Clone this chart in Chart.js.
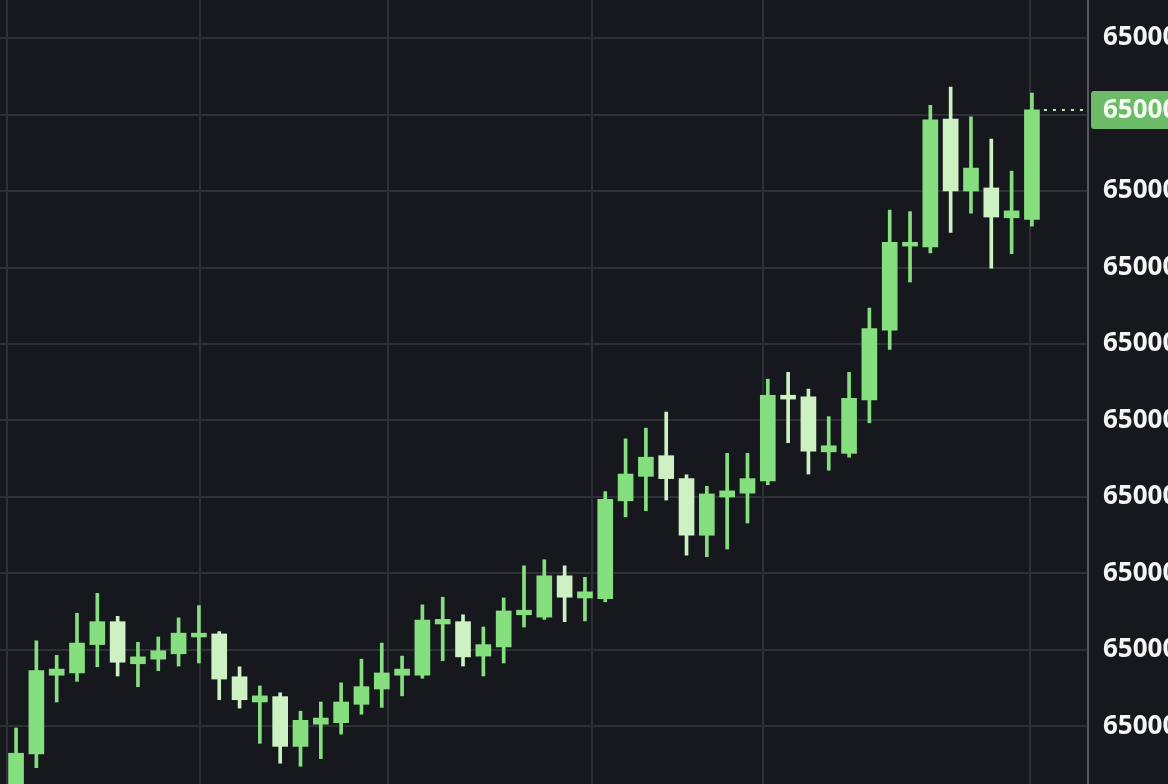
<!DOCTYPE html>
<html>
<head>
<meta charset="utf-8">
<script src="https://cdn.jsdelivr.net/npm/chart.js@4.4.1/dist/chart.umd.min.js"></script>
<style>
  html, body { margin: 0; padding: 0; background: #16181e; overflow: hidden; }
</style>
</head>
<body>
<canvas id="graficoVelas" width="1168" height="784"></canvas>
<script>
// velas (indice de cada vela)
const velas = [
  1, 2, 3, 4, 5, 6, 7, 8, 9, 10, 11, 12, 13, 14, 15, 16, 17, 18, 19, 20,
  21, 22, 23, 24, 25, 26, 27, 28, 29, 30, 31, 32, 33, 34, 35, 36, 37, 38, 39, 40,
  41, 42, 43, 44, 45, 46, 47, 48, 49, 50, 51,
];
const aperturas = [
  0.4, 6.4, 16.7, 17.0, 20.7, 23.7, 18.2, 18.8, 19.5, 21.7,
  22.1, 16.5, 13.2, 13.9, 7.4, 10.3, 10.5, 12.9, 14.9, 16.7,
  16.7, 23.4, 23.7, 19.2, 20.4, 24.6, 24.3, 29.7, 26.8, 26.7,
  39.5, 42.7, 45.4, 42.4, 35.0, 40.0, 40.5, 42.1, 53.3, 53.1,
  45.9, 45.7, 52.7, 61.8, 72.8, 72.7, 89.4, 80.0, 80.4, 76.5, 76.3,
];
const maximos = [
  9.8, 21.2, 19.3, 24.8, 27.4, 24.4, 21.0, 21.7, 24.2, 25.8,
  22.4, 17.8, 15.3, 14.4, 12.0, 13.2, 15.7, 18.8, 20.9, 19.2,
  25.9, 26.9, 24.6, 23.0, 26.8, 31.0, 31.8, 31.0, 29.5, 40.7,
  47.6, 49.0, 51.1, 42.9, 41.4, 45.7, 45.7, 55.4, 56.3, 54.1,
  50.5, 56.3, 64.7, 77.5, 77.3, 91.2, 93.6, 89.7, 86.8, 82.6, 92.8,
];
const minimos = [
  -1.2, 4.6, 13.2, 15.9, 17.8, 16.6, 15.2, 17.3, 17.9, 18.3,
  13.5, 12.4, 7.8, 5.2, 4.8, 5.8, 9.0, 11.6, 12.5, 14.0,
  16.3, 18.6, 17.9, 16.6, 18.3, 23.0, 24.0, 23.7, 23.8, 26.3,
  37.4, 38.2, 39.6, 32.4, 32.2, 33.2, 36.6, 41.6, 47.1, 43.0,
  43.5, 45.2, 49.7, 59.3, 68.1, 71.9, 74.6, 77.1, 69.9, 71.8, 75.4,
];
const cierres = [
  6.5, 17.3, 17.5, 20.9, 23.7, 18.4, 19.1, 19.9, 22.2, 22.2,
  16.2, 13.5, 14.0, 7.4, 10.8, 11.1, 13.2, 15.2, 17.0, 17.5,
  23.9, 24.0, 19.1, 20.7, 25.1, 25.2, 29.7, 26.9, 27.6, 39.7,
  43.0, 45.2, 42.4, 35.0, 40.4, 40.8, 42.4, 53.3, 52.8, 46.0,
  46.7, 52.9, 62.0, 73.3, 73.3, 89.3, 80.0, 83.0, 76.6, 77.4, 90.6,
];

// lineas verticales de tiempo y marcas del eje de precios
const lineasTiempo = [0.56, 10.06, 19.31, 29.35, 37.76, 50.9];
const marcasPrecio = [10, 20, 30, 40, 50, 60, 70, 80, 90, 100];
const etiquetasPrecio = [
  "65000", "65000", "65000", "65000", "65000",
  "65000", "65000", "65000", "65000", "65000",
];
const etiquetaActual = "65000";

const VERDE = "#86df7e";
const PALIDO = "#cdf1c3";
const colores = velas.map((v, i) => (cierres[i] >= aperturas[i] ? VERDE : PALIDO));

// caja del precio actual + linea punteada
const precioActual = {
  id: "precioActual",
  afterDraw(chart) {
    const { ctx, chartArea, scales } = chart;
    const y = scales.y.getPixelForValue(cierres[cierres.length - 1]);
    const xUltima = scales.x.getPixelForValue(velas[velas.length - 1]);
    ctx.save();
    ctx.strokeStyle = "#bfe8b5";
    ctx.lineWidth = 2;
    ctx.setLineDash([3, 6]);
    ctx.beginPath();
    ctx.moveTo(xUltima + 12, y);
    ctx.lineTo(chartArea.right - 2, y);
    ctx.stroke();
    ctx.setLineDash([]);
    ctx.fillStyle = "#6cbb68";
    ctx.beginPath();
    ctx.roundRect(chartArea.right + 3, y - 19, 120, 38, 3);
    ctx.fill();
    ctx.fillStyle = "#f6fff3";
    ctx.font = "bold 26px 'Open Sans'";
    ctx.textBaseline = "middle";
    ctx.textAlign = "left";
    ctx.fillText(etiquetaActual, chartArea.right + 15, y + 1);
    ctx.restore();
  },
};

function sinRelleno(scale) {
  scale.paddingTop = 0;
  scale.paddingBottom = 0;
  scale.paddingLeft = 0;
  scale.paddingRight = 0;
}

new Chart(document.getElementById("graficoVelas"), {
  type: "bar",
  data: {
    datasets: [
      {
        label: "Cuerpos",
        data: velas.map((v, i) => ({ x: v, y: [aperturas[i], cierres[i]] })),
        backgroundColor: colores,
        barThickness: 15,
        grouped: false,
        order: 1,
      },
      {
        label: "Mechas",
        data: velas.map((v, i) => ({ x: v, y: [minimos[i], maximos[i]] })),
        backgroundColor: colores,
        barThickness: 3,
        grouped: false,
        order: 2,
      },
    ],
  },
  options: {
    responsive: false,
    animation: false,
    layout: { padding: 0 },
    plugins: {
      legend: { display: false },
      tooltip: { enabled: false },
    },
    scales: {
      x: {
        type: "linear",
        offset: false,
        min: 0.21,
        max: 53.76,
        afterBuildTicks: (scale) => {
          scale.ticks = lineasTiempo.map((v) => ({ value: v }));
        },
        afterFit: (scale) => {
          sinRelleno(scale);
          scale.height = 0;
        },
        ticks: { display: false },
        grid: { color: "#2e3037", lineWidth: 2, drawTicks: false, offset: false },
        border: { display: false },
      },
      y: {
        position: "right",
        min: 2.48,
        max: 104.97,
        afterBuildTicks: (scale) => {
          scale.ticks = marcasPrecio.map((v) => ({ value: v }));
        },
        afterFit: (scale) => {
          sinRelleno(scale);
          scale.width = 80;
        },
        ticks: {
          autoSkip: false,
          padding: 15,
          color: "#f4f4f4",
          font: { family: "'Open Sans'", size: 26, weight: "bold" },
          callback: (valor, indice) => etiquetasPrecio[indice],
        },
        grid: { color: "#2e3037", lineWidth: 2, drawTicks: false },
        border: { display: true, color: "#555861", width: 2 },
      },
    },
  },
  plugins: [precioActual],
});
</script>
</body>
</html>
